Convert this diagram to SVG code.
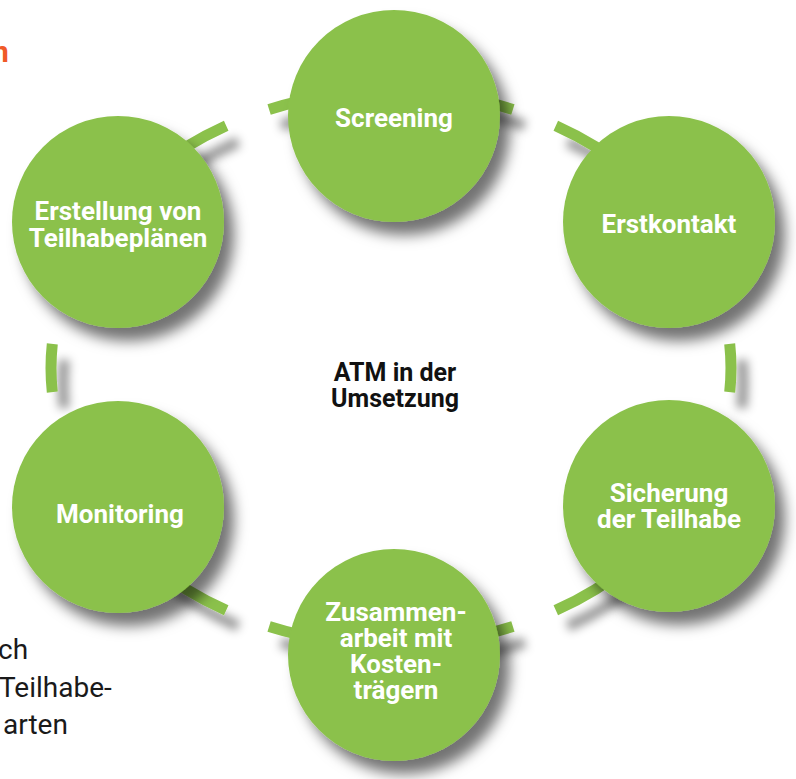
<svg xmlns="http://www.w3.org/2000/svg" width="796" height="779" viewBox="0 0 796 779">
<defs>
<filter id="sh" x="-30%" y="-30%" width="170%" height="170%">
<feDropShadow dx="10" dy="13" stdDeviation="7" flood-color="#000" flood-opacity="0.55"/>
</filter>
<filter id="dsh" x="-60%" y="-60%" width="250%" height="250%">
<feDropShadow dx="12" dy="16" stdDeviation="5" flood-color="#000" flood-opacity="0.4"/>
</filter>
</defs>
<style>
.ring{fill:none;stroke:#8BC14B;stroke-width:11;stroke-linecap:butt}
.node{fill:#8BC14B}
.lbl{font-family:Roboto,"Liberation Sans",sans-serif;font-weight:bold;font-size:26px;fill:#fff;text-anchor:middle}
.ctr{font-family:Roboto,"Liberation Sans",sans-serif;font-weight:bold;font-size:25px;fill:#111;text-anchor:middle}
.side{font-family:Roboto,"Liberation Sans",sans-serif;font-size:28px;fill:#1a1a1a}
</style>
<rect width="796" height="779" fill="#fff"/>
<text x="-8" y="62" style="font-family:Roboto,'Liberation Sans',sans-serif;font-weight:bold;font-size:30px;fill:#F05A28">n</text>
<g class="side">
<text x="-2" y="659">ch</text>
<text x="-1" y="697">Teilhabe-</text>
<text x="3" y="734">arten</text>
</g>
<g id="connectors" filter="url(#dsh)">
<path class="ring" d="M729.7,343.9 A340,277 0 0 1 729.7,392.1"/>
<path class="ring" d="M52.3,392.1 A340,277 0 0 1 52.3,343.9"/>
<path class="ring" d="M555.8,125.7 A340,277 0 0 1 631.4,172.1"/>
<path class="ring" d="M269.1,109.4 A340,277 0 0 1 512.9,109.4"/>
<path class="ring" d="M150.6,172.1 A340,277 0 0 1 226.2,125.7"/>
<path class="ring" d="M631.4,563.9 A340,277 0 0 1 555.8,610.3"/>
<path class="ring" d="M512.9,626.6 A340,277 0 0 1 269.1,626.6"/>
<path class="ring" d="M226.2,610.3 A340,277 0 0 1 150.6,563.9"/>
</g>
<g id="screening"><circle class="node" cx="394" cy="116" r="106" filter="url(#sh)"/><text class="lbl" x="394" y="127">Screening</text></g>
<g id="erstkontakt"><circle class="node" cx="669" cy="222" r="106" filter="url(#sh)"/><text class="lbl" x="669" y="233">Erstkontakt</text></g>
<g id="sicherung"><circle class="node" cx="669" cy="506" r="106" filter="url(#sh)"/><text class="lbl" x="669" y="502">Sicherung</text><text class="lbl" x="669" y="528">der Teilhabe</text></g>
<g id="zusammenarbeit"><circle class="node" cx="394" cy="655" r="106" filter="url(#sh)"/><text class="lbl" x="396" y="621">Zusammen-</text><text class="lbl" x="396" y="647">arbeit mit</text><text class="lbl" x="396" y="673">Kosten-</text><text class="lbl" x="396" y="699">trägern</text></g>
<g id="monitoring"><circle class="node" cx="118" cy="507" r="106" filter="url(#sh)"/><text class="lbl" x="120" y="523">Monitoring</text></g>
<g id="erstellung"><circle class="node" cx="118" cy="222" r="106" filter="url(#sh)"/><text class="lbl" x="118" y="220">Erstellung von</text><text class="lbl" x="118" y="247">Teilhabeplänen</text></g>
<g id="center"><text class="ctr" x="395" y="381">ATM in der</text><text class="ctr" x="395" y="407">Umsetzung</text></g>
</svg>
